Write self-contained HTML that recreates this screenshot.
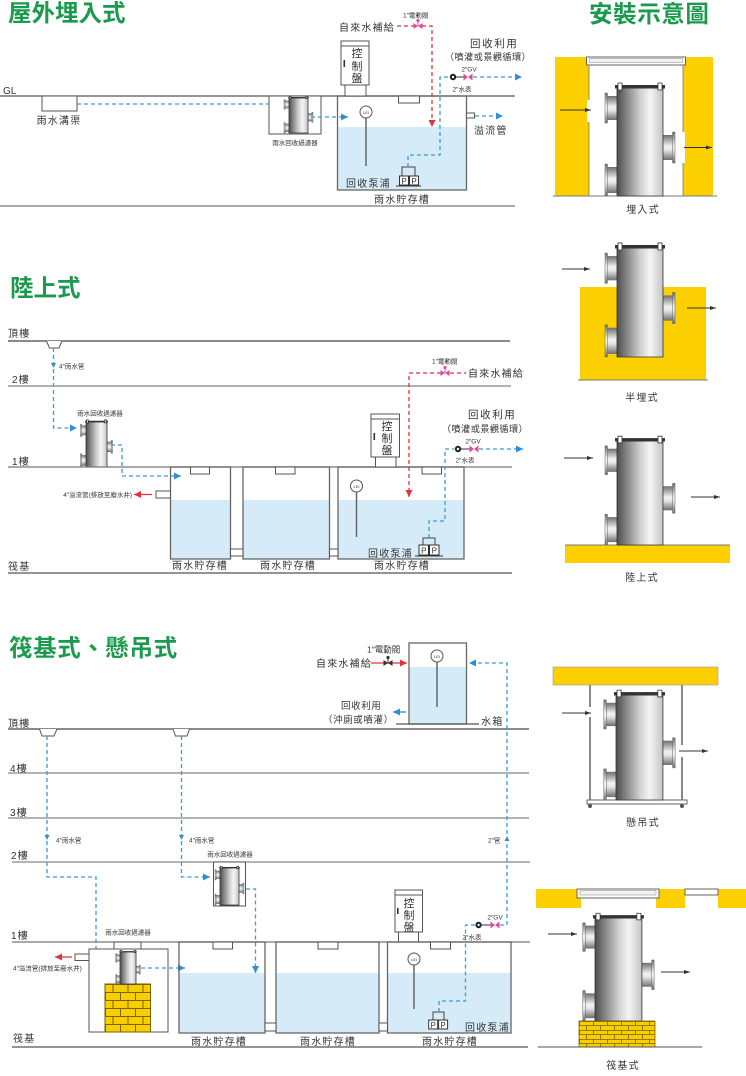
<!DOCTYPE html>
<html><head><meta charset="utf-8">
<style>
html,body{margin:0;padding:0;background:#fff;}
svg{display:block;}
text{font-family:"Liberation Sans","Noto Sans CJK TC",sans-serif;fill:#333;}
.t{font-size:10px;letter-spacing:1.2px}
.m{font-size:9.5px;letter-spacing:0.6px}
.m2{font-size:9.2px;letter-spacing:0.4px}
.r{font-size:10.5px;letter-spacing:1.6px}
.s{font-size:6.5px}
.p{font-size:11px}
.ti{font-size:23.5px;font-weight:bold;fill:#1a9a4d}
.bd{stroke:#3a9bd9;stroke-width:1.3;stroke-dasharray:4 3;fill:none}
.rd{stroke:#e5323a;stroke-width:1.3;stroke-dasharray:4 3;fill:none}
.tk{fill:none;stroke:#666;stroke-width:1.3}
.w{fill:#d5ebf8}
.bx{fill:#fff;stroke:#555;stroke-width:1}
.y{fill:#fccf00}
</style></head><body>
<svg width="746" height="1076" viewBox="0 0 746 1076" xmlns="http://www.w3.org/2000/svg">
<defs>
 <linearGradient id="gh" x1="0" x2="1" y1="0" y2="0">
  <stop offset="0" stop-color="#4d4d4d"/>
  <stop offset=".18" stop-color="#7d7d7d"/>
  <stop offset=".5" stop-color="#cfcfcf"/>
  <stop offset=".72" stop-color="#f5f5f5"/>
  <stop offset="1" stop-color="#c4c4c4"/>
 </linearGradient>
 <linearGradient id="gv" x1="0" x2="0" y1="0" y2="1">
  <stop offset="0" stop-color="#6e6e6e"/>
  <stop offset=".45" stop-color="#f2f2f2"/>
  <stop offset=".6" stop-color="#e6e6e6"/>
  <stop offset="1" stop-color="#6e6e6e"/>
 </linearGradient>
 <pattern id="brk" width="30" height="16" patternUnits="userSpaceOnUse">
  <rect width="30" height="16" fill="#f7cf00"/>
  <path d="M0,0.5H30M0,8.5H30M0.5,0V8M15.5,0V8M8,8V16M23,8V16" stroke="#7a6200" stroke-width="1" fill="none"/>
 </pattern>
 <pattern id="brk2" width="28" height="9" patternUnits="userSpaceOnUse" x="579" y="1021">
  <rect width="28" height="9" fill="#f7cf00"/>
  <path d="M0,0.5H28M0.5,0V4.5M14.5,0V4.5M7.5,4.5V9M21.5,4.5V9M0,4.5H28" stroke="#7a6200" stroke-width="0.8" fill="none"/>
 </pattern>
 <marker id="ab" markerWidth="8" markerHeight="8" refX="7" refY="3.5" orient="auto" markerUnits="userSpaceOnUse"><path d="M0,0L7,3.5L0,7Z" fill="#2f8fd3"/></marker>
 <marker id="ar" markerWidth="8" markerHeight="8" refX="7" refY="3.5" orient="auto" markerUnits="userSpaceOnUse"><path d="M0,0L7,3.5L0,7Z" fill="#e5323a"/></marker>
 <marker id="ak" markerWidth="7" markerHeight="5" refX="6" refY="2" orient="auto" markerUnits="userSpaceOnUse"><path d="M0,0L6,2L0,4Z" fill="#333"/></marker>
 <g id="flt">
  <rect x="-10" y="8" width="10" height="24" fill="url(#gv)"/>
  <rect x="-12" y="5" width="2.5" height="30" fill="url(#gv)" stroke="#666" stroke-width=".5" vector-effect="non-scaling-stroke"/>
  <rect x="-10" y="79" width="10" height="26" fill="url(#gv)"/>
  <rect x="-12" y="76" width="2.5" height="32" fill="url(#gv)" stroke="#666" stroke-width=".5" vector-effect="non-scaling-stroke"/>
  <rect x="46" y="47" width="10" height="25" fill="url(#gv)"/>
  <rect x="55.5" y="44" width="2.5" height="31" fill="url(#gv)" stroke="#666" stroke-width=".5" vector-effect="non-scaling-stroke"/>
  <rect x="0" y="0" width="46" height="108" fill="url(#gh)" stroke="#333" stroke-width=".8" vector-effect="non-scaling-stroke"/>
  <rect x="-2" y="-3" width="50" height="3.5" fill="#333"/>
  <rect x="1" y="-5" width="4" height="7" fill="#fff" stroke="#333" stroke-width=".8" vector-effect="non-scaling-stroke"/>
  <rect x="41" y="-5" width="4" height="7" fill="#fff" stroke="#333" stroke-width=".8" vector-effect="non-scaling-stroke"/>
 </g>
</defs>

<!-- ================= SECTION 1 ================= -->
<text x="8" y="21" class="ti">屋外埋入式</text>
<text x="3" y="94" style="font-size:10px">GL</text>
<line x1="0" y1="96" x2="515" y2="96" stroke="#555" stroke-width="1.2"/>
<line x1="0" y1="206" x2="515" y2="206" stroke="#aaa" stroke-width="2"/>
<rect x="42" y="96" width="35" height="15" class="bx"/>
<text x="59" y="124" class="t" text-anchor="middle">雨水溝渠</text>
<path class="bd" d="M77,104H276" marker-end="url(#ab)"/>
<rect x="269" y="96" width="52" height="38" class="bx"/>
<use href="#flt" transform="translate(289,98) scale(.413,.324)"/>
<text x="295" y="145" class="s" text-anchor="middle">雨水回收過濾器</text>
<path class="bd" d="M311,117H348" marker-end="url(#ab)"/>
<rect x="337.5" y="127" width="129" height="63" class="w"/>
<rect x="337.5" y="96" width="129" height="94" class="tk"/>
<rect x="398.5" y="96" width="21" height="7" class="bx"/>
<rect x="345" y="85" width="21" height="11" class="bx"/>
<rect x="341" y="41" width="28" height="44" class="bx"/>
<rect x="341" y="41" width="28" height="5" class="bx"/>
<rect x="343.5" y="60" width="1.6" height="7" fill="#333"/>
<text x="357" y="57" class="p" text-anchor="middle">控</text>
<text x="357" y="70" class="p" text-anchor="middle">制</text>
<text x="357" y="82" class="p" text-anchor="middle">盤</text>
<rect x="466.5" y="113" width="8" height="5" class="bx"/>
<path class="bd" d="M475,116H503" marker-end="url(#ab)"/>
<text x="474" y="134" class="t">溢流管</text>
<line x1="366" y1="118" x2="366" y2="166" stroke="#666" stroke-width="1.5"/>
<circle cx="366" cy="112" r="6" fill="#fff" stroke="#555"/>
<text x="366" y="114" font-size="4" text-anchor="middle">LEI</text>
<path d="M402,176V167H415V176" fill="none" stroke="#444"/>
<rect x="399.5" y="176" width="9" height="9" fill="#fff" stroke="#333"/>
<rect x="409.5" y="176" width="9" height="9" fill="#fff" stroke="#333"/>
<text x="404" y="184" font-size="8" text-anchor="middle">P</text>
<text x="414" y="184" font-size="8" text-anchor="middle">P</text>
<line x1="396" y1="186" x2="421" y2="186" stroke="#333"/>
<text x="346" y="187" class="t">回收泵浦</text>
<text x="402" y="203" class="t" text-anchor="middle">雨水貯存槽</text>
<path class="bd" d="M408,167V155H440V77H449"/>
<circle cx="453" cy="77" r="3.2" fill="#222"/><circle cx="453" cy="77" r="1.2" fill="#fff"/>
<line x1="456" y1="77" x2="464" y2="77" stroke="#333"/>
<path d="M463.5,73.5L472.5,80.5L472.5,73.5L463.5,80.5Z" fill="#e04aa0"/>
<path class="bd" d="M473,77H522" marker-end="url(#ab)"/>
<text x="469" y="71.5" class="s" text-anchor="middle">2″GV</text>
<text x="462" y="91.5" class="s" text-anchor="middle">2″水表</text>
<text x="470" y="47" class="r">回收利用</text>
<text x="488" y="60" class="m2" text-anchor="middle">（噴灌或景觀循環）</text>
<text x="339" y="31" class="t">自來水補給</text>
<path class="rd" d="M397,26H414"/>
<path d="M413.5,23L422.5,29L422.5,23L413.5,29Z" fill="#e04aa0"/>
<line x1="418" y1="26" x2="418" y2="21" stroke="#e04aa0"/><circle cx="418" cy="20.5" r="1.6" fill="#e04aa0"/>
<path class="rd" d="M422,26H432V127" marker-end="url(#ar)"/>
<text x="403" y="17.5" class="s">1″電動閥</text>

<!-- ================= SECTION 2 ================= -->
<text x="10" y="296" class="ti">陸上式</text>
<text x="8" y="337" class="t">頂樓</text>
<line x1="8" y1="341" x2="510" y2="341" stroke="#444" stroke-width="1.2"/>
<path d="M46.5,341L49.5,348H59L62,341" fill="#fff" stroke="#555"/>
<path class="bd" d="M53.5,348V428H77" marker-end="url(#ab)"/>
<polygon points="51,363 56,363 53.5,368" fill="#2f8fd3"/>
<text x="59" y="368.5" class="s">4″雨水管</text>
<text x="12" y="383" class="t">2樓</text>
<line x1="8" y1="386" x2="511" y2="386" stroke="#999" stroke-width="1.5"/>
<text x="100" y="415.5" class="s" text-anchor="middle">雨水回收過濾器</text>
<use href="#flt" transform="translate(86,422) scale(.457,.417)"/>
<path class="bd" d="M111,445H122V476H181" marker-end="url(#ab)"/>
<text x="12" y="465" class="t">1樓</text>
<line x1="8" y1="467" x2="512" y2="467" stroke="#777" stroke-width="1.3"/>
<rect x="170.5" y="500" width="60" height="59" class="w"/>
<rect x="243" y="500" width="86.5" height="59" class="w"/>
<rect x="338" y="500" width="126" height="59" class="w"/>
<rect x="170.5" y="467" width="60" height="92" class="tk"/>
<rect x="243" y="467" width="86.5" height="92" class="tk"/>
<rect x="338" y="467" width="126" height="92" class="tk"/>
<rect x="230.5" y="549" width="12.5" height="7" class="bx"/>
<rect x="329.5" y="549" width="8.5" height="7" class="bx"/>
<rect x="190.5" y="467" width="19" height="7" class="bx"/>
<rect x="275.5" y="467" width="19.5" height="7" class="bx"/>
<rect x="422" y="467" width="19.5" height="7" class="bx"/>
<rect x="156" y="491" width="14.5" height="7" class="bx"/>
<path d="M152,494.5H134" stroke="#e5323a" stroke-width="1.3" marker-end="url(#ar)"/>
<text x="132" y="497" class="s" text-anchor="end">4″溢流管(排放至廢水井)</text>
<rect x="375.5" y="457" width="20.5" height="10" class="bx"/>
<rect x="371" y="414" width="28.5" height="43" class="bx"/>
<rect x="371" y="414" width="28.5" height="5" class="bx"/>
<rect x="373.5" y="433" width="1.6" height="7" fill="#333"/>
<text x="387" y="430" class="p" text-anchor="middle">控</text>
<text x="387" y="442" class="p" text-anchor="middle">制</text>
<text x="387" y="454" class="p" text-anchor="middle">盤</text>
<line x1="356.5" y1="492" x2="356.5" y2="537" stroke="#666" stroke-width="1.5"/>
<circle cx="356.5" cy="486" r="6" fill="#fff" stroke="#555"/>
<text x="356.5" y="488" font-size="4" text-anchor="middle">LEI</text>
<text x="432" y="363.5" class="s">1″電動閥</text>
<path class="rd" d="M441,373H409V497" marker-end="url(#ar)"/>
<path d="M440.5,370L449.5,376L449.5,370L440.5,376Z" fill="#e04aa0"/>
<line x1="445" y1="373" x2="445" y2="368" stroke="#e04aa0"/><circle cx="445" cy="367.5" r="1.6" fill="#e04aa0"/>
<path class="rd" d="M450,373H466"/>
<text x="468" y="377" class="t">自來水補給</text>
<text x="468" y="418" class="r">回收利用</text>
<text x="485" y="432" class="m2" text-anchor="middle">（噴灌或景觀循環）</text>
<path d="M423,545V538H435V545" fill="none" stroke="#444"/>
<rect x="419" y="545" width="9.5" height="10" fill="#fff" stroke="#333"/>
<rect x="429.5" y="545" width="9.5" height="10" fill="#fff" stroke="#333"/>
<text x="423.8" y="553.5" font-size="8" text-anchor="middle">P</text>
<text x="434.3" y="553.5" font-size="8" text-anchor="middle">P</text>
<line x1="415" y1="556" x2="443" y2="556" stroke="#333"/>
<path class="bd" d="M429,538V521H445V449H454"/>
<circle cx="458" cy="449" r="3.2" fill="#222"/><circle cx="458" cy="449" r="1.2" fill="#fff"/>
<line x1="461" y1="449" x2="470" y2="449" stroke="#333"/>
<path d="M469.5,445.5L478.5,452.5L478.5,445.5L469.5,452.5Z" fill="#e04aa0"/>
<path class="bd" d="M479,449H523" marker-end="url(#ab)"/>
<text x="473" y="443.5" class="s" text-anchor="middle">2″GV</text>
<text x="465" y="462.5" class="s" text-anchor="middle">2″水表</text>
<text x="368" y="557" class="t">回收泵浦</text>
<text x="200" y="569" class="t" text-anchor="middle">雨水貯存槽</text>
<text x="288" y="569" class="t" text-anchor="middle">雨水貯存槽</text>
<text x="402" y="569" class="t" text-anchor="middle">雨水貯存槽</text>
<text x="8" y="570" class="t">筏基</text>
<line x1="8" y1="573" x2="512" y2="573" stroke="#555" stroke-width="1.2"/>

<!-- ================= SECTION 3 ================= -->
<text x="9" y="656" class="ti" style="letter-spacing:0.6px">筏基式、懸吊式</text>
<rect x="409" y="667" width="57.5" height="57" class="w"/>
<rect x="409" y="643" width="57.5" height="81" class="tk"/>
<line x1="396" y1="724" x2="479" y2="724" stroke="#555" stroke-width="1.2"/>
<line x1="437" y1="662" x2="437" y2="707" stroke="#666" stroke-width="1.5"/>
<circle cx="437" cy="656" r="6" fill="#fff" stroke="#555"/>
<text x="437" y="658" font-size="4" text-anchor="middle">LEI</text>
<text x="481" y="725" class="t">水箱</text>
<text x="367" y="652.5" style="font-size:8.5px">1″電動閥</text>
<text x="316" y="667" class="t">自來水補給</text>
<path d="M371,663H407" stroke="#e5323a" stroke-width="1.3" marker-end="url(#ar)"/>
<path d="M383.5,660L392.5,666L392.5,660L383.5,666Z" fill="#333"/>
<line x1="388" y1="663" x2="388" y2="658" stroke="#333"/><circle cx="388" cy="657.5" r="1.6" fill="#333"/>
<text x="341" y="709" class="m">回收利用</text>
<text x="323" y="723" class="m">（沖廁或噴灌）</text>
<path d="M406,712H393" stroke="#2f8fd3" stroke-width="1.3" marker-end="url(#ab)"/>
<text x="8" y="727" class="t">頂樓</text>
<line x1="8" y1="729" x2="529" y2="729" stroke="#444" stroke-width="1.2"/>
<path d="M39.5,729L42,736H54L57,729" fill="#fff" stroke="#555"/>
<path d="M173,729L175.5,736H187L189.5,729" fill="#fff" stroke="#555"/>
<text x="10" y="772" class="t">4樓</text>
<line x1="8" y1="773" x2="529" y2="773" stroke="#888" stroke-width="1.3"/>
<text x="10" y="816" class="t">3樓</text>
<line x1="8" y1="818" x2="529" y2="818" stroke="#888" stroke-width="1.3"/>
<path class="bd" d="M47,736V877H96V957H110" marker-end="url(#ab)"/>
<path class="bd" d="M181.5,736V877H210" marker-end="url(#ab)"/>
<polygon points="44.5,835 49.5,835 47,840" fill="#2f8fd3"/>
<polygon points="179,835 184,835 181.5,840" fill="#2f8fd3"/>
<text x="56" y="842.5" class="s">4″雨水管</text>
<text x="189" y="842.5" class="s">4″雨水管</text>
<text x="488" y="842.5" class="s">2″管</text>
<text x="11" y="859" class="t">2樓</text>
<line x1="12" y1="862" x2="530" y2="862" stroke="#888" stroke-width="1.3"/>
<text x="230" y="856.5" class="s" text-anchor="middle">雨水回收過濾器</text>
<rect x="213.5" y="862" width="32" height="44" class="bx"/>
<use href="#flt" transform="translate(220,868) scale(.413,.343)"/>
<path class="bd" d="M246,889H255.5V973" marker-end="url(#ab)"/>
<rect x="398.5" y="932" width="20" height="10" class="bx"/>
<rect x="395" y="890" width="27.5" height="42" class="bx"/>
<rect x="395" y="890" width="27.5" height="5" class="bx"/>
<rect x="397" y="908" width="1.6" height="6" fill="#333"/>
<text x="409" y="907" class="p" text-anchor="middle">控</text>
<text x="409" y="919" class="p" text-anchor="middle">制</text>
<text x="409" y="931" class="p" text-anchor="middle">盤</text>
<text x="11" y="939" class="t">1樓</text>
<line x1="12" y1="942" x2="530" y2="942" stroke="#777" stroke-width="1.3"/>
<text x="128" y="934.5" class="s" text-anchor="middle">雨水回收過濾器</text>
<rect x="89" y="949" width="79" height="83" class="bx"/>
<rect x="114" y="942" width="27" height="7" class="bx"/>
<rect x="105" y="984" width="45.5" height="48" fill="url(#brk)" stroke="#7a6200" stroke-width="1"/>
<use href="#flt" transform="translate(120,952) scale(.348,.296)"/>
<rect x="75" y="954" width="14" height="6.5" class="bx"/>
<path d="M72,957H55" stroke="#e5323a" stroke-width="1.3" marker-end="url(#ar)"/>
<text x="13" y="970.5" class="s">4″溢流管(排放至廢水井)</text>
<path class="bd" d="M141,968H185" marker-end="url(#ab)"/>
<rect x="179" y="973" width="86" height="60" class="w"/>
<rect x="276" y="973" width="103" height="60" class="w"/>
<rect x="387.5" y="973" width="123.5" height="60" class="w"/>
<rect x="179" y="942" width="86" height="91" class="tk"/>
<rect x="276" y="942" width="103" height="91" class="tk"/>
<rect x="387.5" y="942" width="123.5" height="91" class="tk"/>
<rect x="265" y="1023" width="11" height="8" class="bx"/>
<rect x="379" y="1023" width="8.5" height="8" class="bx"/>
<rect x="213" y="942" width="19.5" height="7" class="bx"/>
<rect x="318" y="942" width="20" height="7" class="bx"/>
<rect x="430.5" y="942" width="20" height="7" class="bx"/>
<line x1="414" y1="965" x2="414" y2="1009" stroke="#666" stroke-width="1.5"/>
<circle cx="414" cy="959" r="6" fill="#fff" stroke="#555"/>
<text x="414" y="961" font-size="4" text-anchor="middle">LEI</text>
<path d="M433,1020V1012H444V1020" fill="none" stroke="#444"/>
<rect x="428.7" y="1020" width="9" height="9" fill="#fff" stroke="#333"/>
<rect x="438.6" y="1020" width="9" height="9" fill="#fff" stroke="#333"/>
<text x="433.2" y="1027.8" font-size="8" text-anchor="middle">P</text>
<text x="443.1" y="1027.8" font-size="8" text-anchor="middle">P</text>
<path class="bd" d="M439,1012V1001H465.5V925H475"/>
<circle cx="478.6" cy="925" r="3.2" fill="#222"/><circle cx="478.6" cy="925" r="1.2" fill="#fff"/>
<line x1="482" y1="925" x2="490.5" y2="925" stroke="#333"/>
<path d="M490.5,921.5L499.5,928.5L499.5,921.5L490.5,928.5Z" fill="#e04aa0"/>
<path class="bd" d="M500,925H507V663H469" marker-end="url(#ab)"/>
<polygon points="504.5,841 509.5,841 507,836" fill="#2f8fd3"/>
<text x="495" y="919.5" class="s" text-anchor="middle">2″GV</text>
<text x="472" y="939.5" class="s" text-anchor="middle">2″水表</text>
<text x="465" y="1031" class="t">回收泵浦</text>
<text x="219" y="1045" class="t" text-anchor="middle">雨水貯存槽</text>
<text x="328" y="1045" class="t" text-anchor="middle">雨水貯存槽</text>
<text x="450" y="1045" class="t" text-anchor="middle">雨水貯存槽</text>
<text x="13" y="1042" class="t">筏基</text>
<line x1="12" y1="1047" x2="528" y2="1047" stroke="#555" stroke-width="1.2"/>

<!-- ================= RIGHT COLUMN ================= -->
<text x="589" y="22" class="ti" style="letter-spacing:0.6px">安裝示意圖</text>
<rect x="555" y="57" width="34" height="139" class="y"/>
<rect x="683" y="57" width="30" height="139" class="y"/>
<line x1="589" y1="65" x2="589" y2="196" stroke="#777" stroke-width=".8"/>
<line x1="683" y1="65" x2="683" y2="196" stroke="#777" stroke-width=".8"/>
<rect x="587" y="100" width="4" height="22" fill="#fff"/>
<rect x="681" y="132" width="4" height="31" fill="#fff"/>
<rect x="586.5" y="57" width="99" height="8" fill="#fff" stroke="#666"/>
<rect x="589.5" y="58.5" width="93" height="4" fill="#f2f2f2" stroke="#999" stroke-width=".6"/>
<line x1="553" y1="196" x2="717" y2="196" stroke="#777"/>
<use href="#flt" transform="translate(617,88)"/>
<path d="M560,110H591" stroke="#333" stroke-width=".9" marker-end="url(#ak)"/>
<path d="M684,147.5H712" stroke="#333" stroke-width=".9" marker-end="url(#ak)"/>
<text x="643" y="213" class="t" text-anchor="middle">埋入式</text>
<rect x="580" y="287" width="126" height="93" class="y"/>
<line x1="578" y1="380" x2="708" y2="380" stroke="#777"/>
<use href="#flt" transform="translate(617,248) scale(1,1.009)"/>
<path d="M562,269H590" stroke="#333" stroke-width=".9" marker-end="url(#ak)"/>
<path d="M687,308H716" stroke="#333" stroke-width=".9" marker-end="url(#ak)"/>
<text x="642" y="401" class="t" text-anchor="middle">半埋式</text>
<rect x="565" y="545" width="165" height="18" class="y"/>
<line x1="565" y1="545" x2="730" y2="545" stroke="#777"/>
<use href="#flt" transform="translate(617,441) scale(1,.963)"/>
<path d="M564,458H593" stroke="#333" stroke-width=".9" marker-end="url(#ak)"/>
<path d="M691,497H720" stroke="#333" stroke-width=".9" marker-end="url(#ak)"/>
<text x="642" y="581" class="t" text-anchor="middle">陸上式</text>
<rect x="553" y="667" width="165" height="18" class="y" stroke="#999" stroke-width=".6"/>
<path d="M590,685V707M590,717V802M682,685V745M682,757V802" stroke="#888" stroke-width="2" fill="none"/>
<rect x="587" y="800" width="100" height="4" fill="#fff" stroke="#666"/>
<circle cx="590" cy="806" r="2" fill="#555"/><circle cx="682" cy="806" r="2" fill="#555"/>
<use href="#flt" transform="translate(616,695) scale(1.02,.972)"/>
<path d="M562,713H591" stroke="#333" stroke-width=".9" marker-end="url(#ak)"/>
<path d="M679,751H708" stroke="#333" stroke-width=".9" marker-end="url(#ak)"/>
<text x="643" y="826" class="t" text-anchor="middle">懸吊式</text>
<rect x="536" y="889" width="45" height="19" class="y"/>
<rect x="656" y="889" width="29" height="19" class="y"/>
<rect x="718" y="889" width="28" height="19" class="y"/>
<rect x="577" y="889" width="82" height="9" fill="#fff" stroke="#666"/>
<rect x="580" y="890.5" width="76" height="4.5" fill="#f2f2f2" stroke="#999" stroke-width=".6"/>
<rect x="685" y="889" width="33" height="6" fill="#fff" stroke="#666"/>
<use href="#flt" transform="translate(595,918) scale(1.02,.954)"/>
<rect x="579" y="1021" width="76" height="26" fill="url(#brk2)" stroke="#7a6200" stroke-width=".8"/>
<line x1="538" y1="1047" x2="702" y2="1047" stroke="#555"/>
<path d="M548,934H577" stroke="#333" stroke-width=".9" marker-end="url(#ak)"/>
<path d="M661,972H690" stroke="#333" stroke-width=".9" marker-end="url(#ak)"/>
<text x="623" y="1069" class="t" text-anchor="middle">筏基式</text>
</svg>
</body></html>
